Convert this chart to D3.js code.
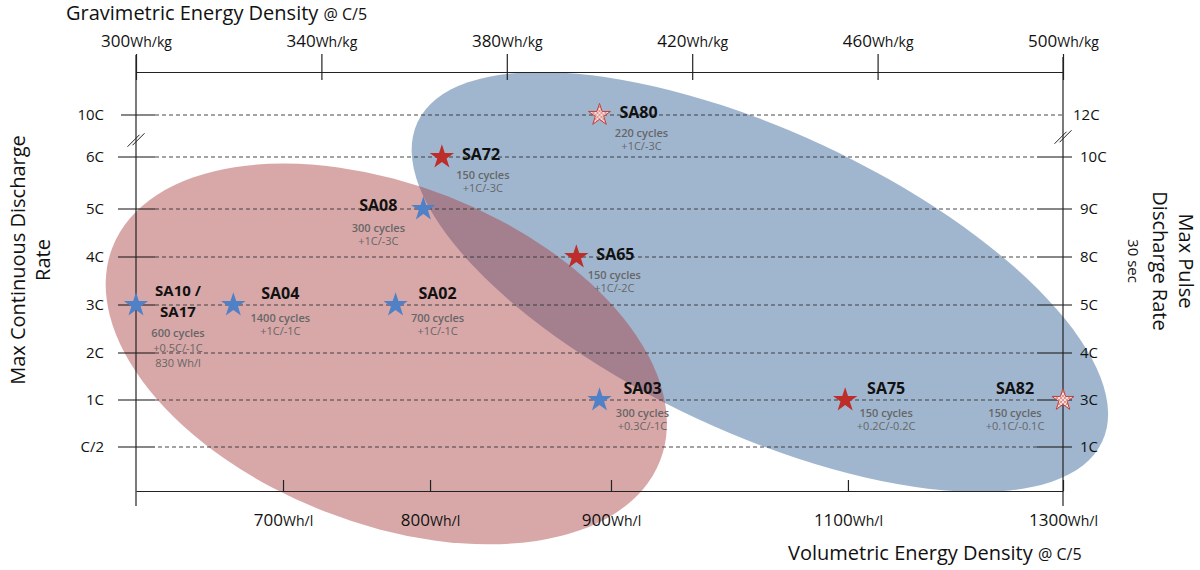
<!DOCTYPE html>
<html>
<head>
<meta charset="utf-8">
<script src="https://cdn.jsdelivr.net/npm/d3@7"></script>
<style>
  body { margin: 0; background: #fff; }
  svg { font-family: "Open Sans", sans-serif; }
</style>
</head>
<body>
<svg width="1200" height="570"></svg>
<script>
// Cells: gravimetric energy density and max continuous discharge rate
const cells = ["SA10 / SA17", "SA04", "SA02", "SA08", "SA72", "SA65", "SA80", "SA03", "SA75", "SA82"];
const gravimetric = [300, 321, 356, 362, 366, 395, 400, 400, 453, 500];
const contRate = ["3C", "3C", "3C", "5C", "6C", "4C", "10C", "1C", "1C", "1C"];
const cycleLife = ["600 cycles", "1400 cycles", "700 cycles", "300 cycles", "150 cycles",
                   "150 cycles", "220 cycles", "300 cycles", "150 cycles", "150 cycles"];
const cycleRate = ["+0.5C/-1C", "+1C/-1C", "+1C/-1C", "+1C/-3C", "+1C/-3C",
                   "+1C/-2C", "+1C/-3C", "+0.3C/-1C", "+0.2C/-0.2C", "+0.1C/-0.1C"];
const notes = ["830 Wh/l", "", "", "", "", "", "", "", "", ""];
const family = ["blue", "blue", "blue", "blue", "red", "red", "hatched", "blue", "red", "hatched"];

// Axis ticks
const gravTicks = [300, 340, 380, 420, 460, 500];
const volDomain = [600, 700, 800, 900, 1100, 1300];
const volTicks = [700, 800, 900, 1100, 1300];
const contTicks = ["C/2", "1C", "2C", "3C", "4C", "5C", "6C", "10C"];
const pulseTicks = ["1C", "3C", "4C", "5C", "8C", "9C", "10C", "12C"];

// Shaded zones (centre in Wh/kg and rate-row index, radii in the same units, tilt in degrees)
const zoneCenterG = [434.6, 354];
const zoneCenterRow = [3.48, 1.98];
const zoneRadiusG = [81.5, 63.4];
const zoneRadiusRow = [3.17, 3.6];
const zoneTilt = [25, 21.3];

// ---- layout ----
const plotLeft = 136, plotRight = 1063, plotTop = 72, plotBottom = 491;
const volStops = [0, 0.1586, 0.3172, 0.5124, 0.768, 1];   // uneven volumetric axis
const rowY = [447, 400, 353, 305, 257, 209, 157, 115];     // uneven rate rows

const svg = d3.select("svg");

const x = d3.scaleLinear().domain([300, 500]).range([plotLeft, plotRight]);
const xVol = d3.scaleLinear().domain(volDomain).range(volStops.map(f => plotLeft + f * (plotRight - plotLeft)));
const yRow = d3.scaleLinear().domain(d3.range(contTicks.length)).range(rowY);
const y = c => yRow(contTicks.indexOf(c));

// Hatch pattern for the open stars
const defs = svg.append("defs");
const pat = defs.append("pattern").attr("id", "hatch")
    .attr("patternUnits", "userSpaceOnUse").attr("width", 4).attr("height", 4);
pat.append("rect").attr("width", 4).attr("height", 4).attr("fill", "#f7dcd8");
pat.append("path").attr("d", "M0,0L4,4M4,0L0,4").attr("stroke", "#d77a76").attr("stroke-width", 0.7);

// Zones
const zoneFill = ["#a0b6cf", "rgba(170,66,66,0.46)"];
zoneCenterG.forEach((g, i) => {
    const cx = x(g), cy = yRow(zoneCenterRow[i]);
    const rx = x(g + zoneRadiusG[i]) - cx;
    const ry = yRow(zoneCenterRow[i] - zoneRadiusRow[i]) - cy;
    svg.append("ellipse")
        .attr("transform", `translate(${cx},${cy}) rotate(${zoneTilt[i]})`)
        .attr("rx", rx).attr("ry", ry)
        .attr("fill", zoneFill[i]);
});

// Rate rows: dashed guides with short solid ticks
const last = contTicks.length - 1;
const rows = svg.append("g");
contTicks.forEach((c, i) => {
    const yy = yRow(i);
    rows.append("line").attr("x1", i === 0 ? 158 : 155).attr("x2", i === last ? plotRight : 1037)
        .attr("y1", yy).attr("y2", yy)
        .attr("stroke", "#333").attr("stroke-width", 0.9).attr("stroke-dasharray", "4,3");
    rows.append("line").attr("x1", i === last ? 121 : 118).attr("x2", 155)
        .attr("y1", yy).attr("y2", yy).attr("stroke", "#111").attr("stroke-width", 1.2);
    if (i !== last) {
        rows.append("line").attr("x1", 1037).attr("x2", 1072)
            .attr("y1", yy).attr("y2", yy).attr("stroke", "#111").attr("stroke-width", 1.2);
    }
    rows.append("text").attr("x", 104).attr("y", yy + 5).attr("text-anchor", "end")
        .attr("font-size", 15).attr("fill", "#111").text(c);
    rows.append("text").attr("x", i === last ? 1073 : 1080).attr("y", yy + 5)
        .attr("font-size", 15).attr("fill", "#111").text(pulseTicks[i]);
});

// Vertical axis lines
[[plotLeft, 55], [plotRight, 57]].forEach(([xx, y0]) => {
    svg.append("line").attr("x1", xx).attr("x2", xx).attr("y1", y0).attr("y2", 506)
        .attr("stroke", "#222").attr("stroke-width", 1.2);
});

// Axis break marks
[[plotLeft, 140], [plotRight, 137]].forEach(([xx, yy]) => {
    [-2.5, 2.5].forEach(o => {
        svg.append("line")
            .attr("x1", xx - 6 + o).attr("y1", yy + 6 - o * 0.3)
            .attr("x2", xx + 6 + o).attr("y2", yy - 6 - o * 0.3)
            .attr("stroke", "#222").attr("stroke-width", 1);
    });
});

// Top axis: gravimetric
const gTop = svg.append("g").attr("transform", `translate(0,${plotTop})`)
    .call(d3.axisTop(x).tickValues(gravTicks).tickSize(18).tickSizeOuter(0).tickFormat(""));
gTop.select(".domain").attr("stroke", "#222").attr("stroke-width", 1.2);
gTop.selectAll(".tick line").attr("y1", 8).attr("stroke", "#222").attr("stroke-width", 1.2);
gTop.selectAll(".tick text").remove();
const topLab = gTop.selectAll(".tick").append("text")
    .attr("y", -25).attr("text-anchor", "middle").attr("fill", "#111").attr("font-family", "Open Sans");
topLab.append("tspan").attr("font-size", 17).text(d => d);
topLab.append("tspan").attr("font-size", 14).text("Wh/kg");

// Bottom axis: volumetric
const gBot = svg.append("g").attr("transform", `translate(0,${plotBottom})`)
    .call(d3.axisBottom(xVol).tickValues(volTicks).tickSize(-11).tickSizeOuter(0).tickFormat(""));
gBot.select(".domain").attr("stroke", "#222").attr("stroke-width", 1.2);
gBot.selectAll(".tick line").attr("stroke", "#222").attr("stroke-width", 1.2);
gBot.selectAll(".tick text").remove();
const botLab = gBot.selectAll(".tick").append("text")
    .attr("y", 35).attr("text-anchor", "middle").attr("fill", "#111").attr("font-family", "Open Sans");
botLab.append("tspan").attr("font-size", 17).text(d => d);
botLab.append("tspan").attr("font-size", 14).text("Wh/l");

// Axis titles
const t1 = svg.append("text").attr("x", 66).attr("y", 20).attr("fill", "#111");
t1.append("tspan").attr("font-size", 20).text("Gravimetric Energy Density ");
t1.append("tspan").attr("font-size", 16).text("@ C/5");

const t2 = svg.append("text").attr("x", 788).attr("y", 560).attr("fill", "#111");
t2.append("tspan").attr("font-size", 20).text("Volumetric Energy Density ");
t2.append("tspan").attr("font-size", 16).text("@ C/5");

const lt = svg.append("text").attr("transform", "translate(0,260) rotate(-90)")
    .attr("text-anchor", "middle").attr("font-size", 20).attr("fill", "#111");
lt.append("tspan").attr("x", 0).attr("y", 25).text("Max Continuous Discharge");
lt.append("tspan").attr("x", 0).attr("y", 50).text("Rate");

const rt = svg.append("text").attr("transform", "translate(0,261) rotate(90)")
    .attr("text-anchor", "middle").attr("fill", "#111");
rt.append("tspan").attr("x", 0).attr("y", -1179).attr("font-size", 20).text("Max Pulse");
rt.append("tspan").attr("x", 0).attr("y", -1153).attr("font-size", 20).text("Discharge Rate");
rt.append("tspan").attr("x", 0).attr("y", -1128).attr("font-size", 15).text("30 sec");

// Stars
const starColor = { blue: "#5080c6", red: "#bd2d29", hatched: "url(#hatch)" };
const star = d3.symbol().type(d3.symbolStar);
const pts = svg.append("g");
cells.forEach((name, i) => {
    pts.append("path")
        .attr("transform", `translate(${x(gravimetric[i])},${y(contRate[i])})`)
        .attr("d", star.size(family[i] === "hatched" ? 150 : 185)())
        .attr("fill", starColor[family[i]])
        .attr("stroke", family[i] === "hatched" ? "#c0403c" : "none")
        .attr("stroke-width", 1);
});

// Labels: how each name and its notes sit relative to the star
const labelLayout = {
    "SA10 / SA17": { mode: "stack", dx: 42 },
    "SA04": { mode: "above", dx: 47 },
    "SA02": { mode: "above", dx: 42 },
    "SA08": { mode: "left", dx: -45 },
    "SA72": { mode: "right", dx: 41 },
    "SA65": { mode: "right", dx: 38 },
    "SA80": { mode: "right", dx: 42 },
    "SA03": { mode: "above", dx: 43 },
    "SA75": { mode: "above", dx: 41 },
    "SA82": { mode: "above", dx: -48 }
};

const labs = svg.append("g");
cells.forEach((name, i) => {
    const px = x(gravimetric[i]), py = y(contRate[i]);
    const L = labelLayout[name];
    const nameText = (xx, yy, anchor, t, fs) => labs.append("text")
        .attr("x", xx).attr("y", yy).attr("text-anchor", anchor)
        .attr("font-size", fs || 16).attr("font-weight", 700).attr("fill", "#111").text(t);
    let lineY;
    if (L.mode === "right") {
        nameText(px + 20, py + 3, "start", name);
        lineY = [py + 22, py + 35];
    } else if (L.mode === "left") {
        nameText(px - 26, py + 2, "end", name);
        lineY = [py + 23, py + 36];
    } else if (L.mode === "above") {
        nameText(px + L.dx, py - 6, "middle", name);
        lineY = [py + 17, py + 30];
    } else {
        const parts = name.split(" / ");
        nameText(px + L.dx, py - 9, "middle", parts[0] + " /", 15);
        nameText(px + L.dx, py + 12, "middle", parts[1], 15);
        lineY = [py + 32, py + 47, py + 62];
    }
    const lines = [cycleLife[i], cycleRate[i], notes[i]].filter(s => s);
    lines.forEach((s, k) => {
        labs.append("text").attr("x", px + L.dx).attr("y", lineY[k])
            .attr("text-anchor", "middle").attr("font-size", 11)
            .attr("font-weight", k === 0 ? 600 : 400)
            .attr("fill", "#666").text(s);
    });
});
</script>
</body>
</html>
